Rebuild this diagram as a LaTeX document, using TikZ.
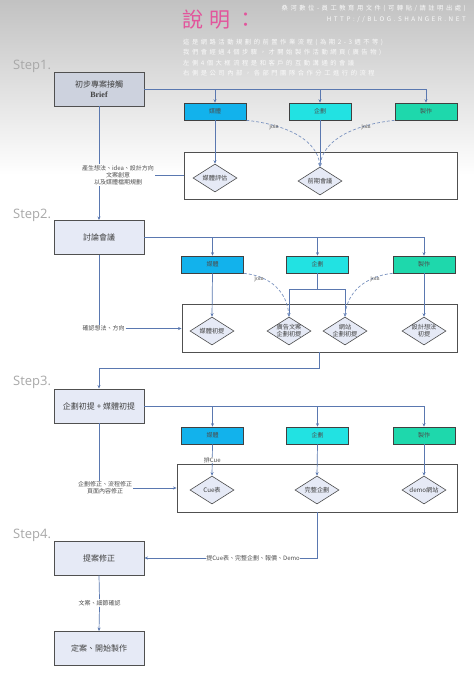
\documentclass[tikz,border=0pt]{standalone}
\usepackage{fontspec}
\setmainfont{Noto Sans CJK TC}
\newfontfamily\hdr[LetterSpace=40]{Noto Sans CJK TC}
\newfontfamily\ttl[LetterSpace=28]{Noto Sans CJK TC}
\newfontfamily\stepf{Open Sans}
\newfontfamily\serf{Liberation Serif}
\usetikzlibrary{shapes.geometric,arrows.meta}
\definecolor{edgec}{HTML}{5A78B0}
\definecolor{boxfill}{HTML}{E6EAF6}
\definecolor{boxfillA}{HTML}{CDD2DE}
\definecolor{boxline}{HTML}{505050}
\definecolor{mediac}{HTML}{12B2EC}
\definecolor{planc}{HTML}{22E2E2}
\definecolor{makec}{HTML}{1ED8AC}
\definecolor{pinkc}{HTML}{E2559C}
\definecolor{stepc}{HTML}{A8A8A8}
\definecolor{hdrc}{HTML}{FAFAFA}
\definecolor{lblc}{HTML}{505050}
\begin{document}
\begin{tikzpicture}[x=1pt,y=-1pt,
  mainbox/.style={draw=boxline, line width=0.9pt, fill=boxfill, minimum width=90pt, minimum height=34pt, inner sep=1pt, align=center, text=black!75, font=\fontsize{8}{10}\selectfont},
  dept/.style={draw=black!75, line width=0.6pt, minimum width=62pt, minimum height=17pt, inner sep=0pt, text=black!70, font=\fontsize{6}{7}\selectfont},
  cont/.style={draw=boxline, line width=0.9pt, fill=white, inner sep=0pt},
  dia/.style={diamond, draw=black!70, fill=boxfill, line width=0.6pt, minimum width=44pt, minimum height=28pt, inner sep=0pt,
     label={[font=\fontsize{6.2}{7.2}\selectfont, align=center, text=black!75]center:#1}},
  ln/.style={draw=edgec, line width=0.7pt},
  arr/.style={ln, -{Stealth[length=3.5pt,width=3pt]}},
  dsh/.style={draw=edgec!80, line width=0.7pt, dashed, dash pattern=on 3pt off 2pt, -{Stealth[length=3.5pt,width=3pt]}},
  joinlbl/.style={font=\serf\fontsize{6}{7}\selectfont, text=lblc, inner sep=0.5pt},
  sidelbl/.style={font=\fontsize{6}{7}\selectfont, text=lblc, align=center, inner sep=1pt},
  steplbl/.style={font=\stepf\fontsize{13}{14}\selectfont, text=stepc, anchor=west, inner sep=0pt},
  hdrtxt/.style={font=\hdr\fontsize{6.3}{7}\selectfont, text=hdrc, inner sep=0pt}
]
\useasboundingbox (0,0) rectangle (474,681);
\fill[white] (0,0) rectangle (474,681);
\shade[top color=black!24, middle color=black!15, bottom color=white] (0,0) rectangle (474,175);

% header
\node[font=\ttl\fontsize{21}{21}\selectfont, text=pinkc, anchor=west, inner sep=0pt] (title) at (182,19.5) {說明：};
\node[hdrtxt, anchor=east] (h1) at (466,8.5) {桑河數位-員工教育用文件(可轉貼/請註明出處)};
\node[hdrtxt, anchor=east] (h2) at (466,19.5) {HTTP://BLOG.SHANGER.NET};
\node[hdrtxt, anchor=west] (h3) at (183,42) {這是網路活動規劃的前置作業流程(為期2-3週不等)};
\node[hdrtxt, anchor=west] (h4) at (183,52.5) {我們會經過4個步驟，才開始製作活動網頁(廣告物)};
\node[hdrtxt, anchor=west] (h5) at (183,63) {左側4個大框流程是和客戶的互動溝通的會議};
\node[hdrtxt, anchor=west] (h6) at (183,73.5) {右側是公司內部，各部門團隊合作分工進行的流程};

% step labels
\node[steplbl] (s1) at (13,66) {Step1.};
\node[steplbl] (s2) at (13,215) {Step2.};
\node[steplbl] (s3) at (13,382) {Step3.};
\node[steplbl] (s4) at (13,535) {Step4.};

% containers
\node[cont, minimum width=273pt, minimum height=47pt] (c1) at (320.5,175.5) {};
\node[cont, minimum width=275pt, minimum height=48pt] (c2) at (319.5,328) {};
\node[cont, minimum width=280pt, minimum height=48pt] (c3) at (317,488) {};

% main boxes
\node[mainbox, fill=boxfillA] (b1) at (99,89) {初步專案接觸\\{\serf\bfseries Brief}};
\node[mainbox] (b2) at (99,237.5) {討論會議};
\node[mainbox] (b3) at (99,406) {企劃初提 + 媒體初提};
\node[mainbox] (b4) at (99,558) {提案修正};
\node[mainbox] (b5) at (99,648.5) {定案、開始製作};

% departments
\node[dept, fill=mediac] (m1) at (215,111.5) {媒體};
\node[dept, fill=planc]  (p1) at (320,111.5) {企劃};
\node[dept, fill=makec]  (z1) at (426,111.5) {製作};
\node[dept, fill=mediac] (m2) at (212.5,264.5) {媒體};
\node[dept, fill=planc]  (p2) at (317.5,264.5) {企劃};
\node[dept, fill=makec]  (z2) at (424,264.5) {製作};
\node[dept, fill=mediac] (m3) at (212.5,435.5) {媒體};
\node[dept, fill=planc]  (p3) at (317.5,435.5) {企劃};
\node[dept, fill=makec]  (z3) at (424,435.5) {製作};

% diamonds
\node[dia={媒體評估}] (d11) at (215,178) {};
\node[dia={前期會議}] (d12) at (320,181) {};
\node[dia={媒體初提}] (d21) at (212,331) {};
\node[dia={廣告文案\\企劃初提}] (d22) at (289,331) {};
\node[dia={網站\\企劃初提}] (d23) at (345,331) {};
\node[dia={設計想法\\初提}] (d24) at (424,331) {};
\node[dia={Cue表}] (d31) at (212,490) {};
\node[dia={完整企劃}] (d32) at (317,490) {};
\node[dia={demo網站}] (d33) at (424,490) {};

% side labels
\node[sidelbl] (t1) at (118,175) {產生想法、idea、設計方向\\文案創意\\以及媒體檔期規劃};
\node[sidelbl] (t2) at (103.5,328.5) {確認想法、方向};
\node[sidelbl] (t3) at (105,488) {企劃修正、流程修正\\頁面內容修正};
\node[sidelbl] (t4) at (99.5,603) {文案、細節確認};

% step 1 connectors
\draw[arr] (b1.east) -- (z1.north |- b1.east) -- (z1.north);
\draw[arr] (m1.north |- b1.east) -- (m1.north);
\draw[arr] (p1.north |- b1.east) -- (p1.north);
\draw[arr] (m1.south) -- (d11.north);
\draw[arr] (p1.south) -- (d12.north);
\draw[dsh] (m1.south east) .. controls +(38,4) and +(-3,-28) .. (d12.north);
\draw[dsh] (z1.south west) .. controls +(-38,4) and +(3,-28) .. (d12.north);
\node[joinlbl] (j1) at (274,127) {join};
\node[joinlbl] (j2) at (366,127) {join};
\draw[ln] (b1.south) -- (b1.south |- t1.north);
\draw[arr] (b1.south |- t1.south) -- (b2.north);
\draw[ln] (t1.east) -- (t1.east -| c1.west);

% step 2 connectors
\draw[arr] (b2.east) -- (z2.north |- b2.east) -- (z2.north);
\draw[arr] (m2.north |- b2.east) -- (m2.north);
\draw[arr] (p2.north |- b2.east) -- (p2.north);
\draw[arr] (m2.south) -- (d21.north);
\draw[ln] (p2.south) -- ++(0,16) coordinate (f2);
\draw[arr] (f2) -| (d22.north);
\draw[arr] (f2) -| (d23.north);
\draw[arr] (z2.south) -- (d24.north);
\draw[dsh] (m2.south east) .. controls +(28,3) and +(-2,-24) .. (d22.north);
\draw[dsh] (z2.south west) .. controls +(-28,3) and +(2,-24) .. (d23.north);
\node[joinlbl] (j3) at (259,279) {join};
\node[joinlbl] (j4) at (375,279) {join};
\draw[ln] (b2.south) -- (b2.south |- t2.north);
\draw[arr] (t2.east) -- (t2.east -| c2.west);
\draw[arr] (c2.south) -- ++(0,16) -| (b3.north);

% step 3 connectors
\draw[arr] (b3.east) -- (z3.north |- b3.east) -- (z3.north);
\draw[arr] (m3.north |- b3.east) -- (m3.north);
\draw[arr] (p3.north |- b3.east) -- (p3.north);
\draw[arr] (m3.south) -- (d31.north) node[midway, fill=white, sidelbl, inner sep=0.5pt] {排Cue};
\draw[arr] (p3.south) -- (d32.north);
\draw[arr] (z3.south) -- (d33.north);
\draw[ln] (b3.south) -- (b3.south |- t3.north);
\draw[arr] (t3.east) -- (t3.east -| c3.west);

% step 4 connectors
\draw[arr] (c3.south) -- (c3.south |- b4.east) -- (b4.east) node[pos=0.37, fill=white, sidelbl, inner sep=0.5pt] {提Cue表、完整企劃、報價、Demo};
\draw[ln] (b4.south) -- (t4.north);
\draw[arr] (t4.south) -- (b5.north);
\end{tikzpicture}
\end{document}
